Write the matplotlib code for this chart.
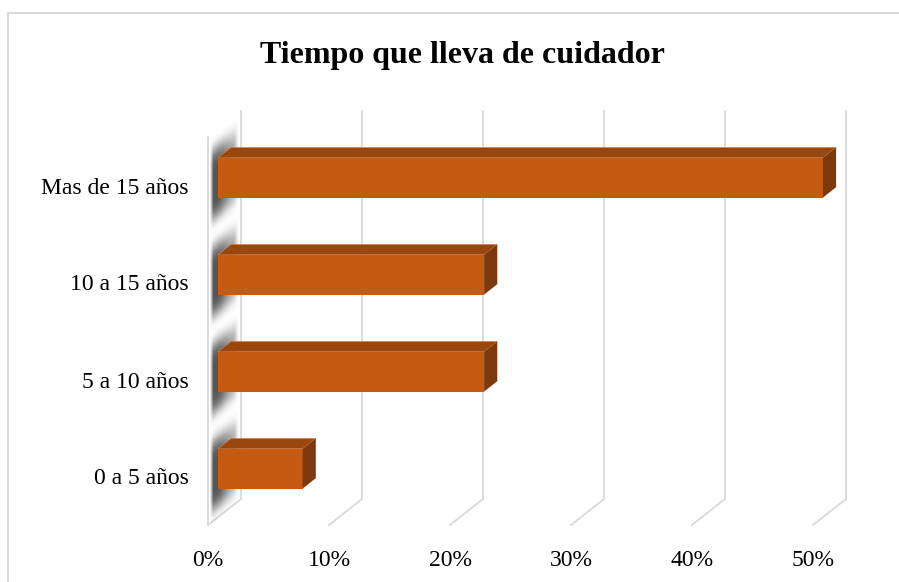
import numpy as np
import matplotlib
matplotlib.use("Agg")
import matplotlib.pyplot as plt
from matplotlib.patches import Polygon, Rectangle

categories = ["0 a 5 años", "5 a 10 años", "10 a 15 años", "Mas de 15 años"]
values = [7, 22, 22, 50]
xticks = [0, 10, 20, 30, 40, 50]
xtick_labels = ["0%", "10%", "20%", "30%", "40%", "50%"]
title = "Tiempo que lleva de cuidador"

plt.rcParams['font.family'] = ['Liberation Serif', 'DejaVu Serif']

W, H = 899, 582
fig = plt.figure(figsize=(W / 100, H / 100), dpi=100)
fig.patch.set_facecolor("white")

# chart frame (runs off the right and bottom edges)
fig.patches.append(Rectangle((8 / W, -0.2), 1.2, (H - 13) / H + 0.2, transform=fig.transFigure,
                             fill=False, edgecolor="#d9d9d9", lw=1.5))

ax = fig.add_axes([208 / W, 57 / H, 605 / W, 388 / H])
ax.set_xlim(0, 50)
ax.set_ylim(-0.5, 3.5)

# oblique depth of the 3d floor (data units)
DX = 33 / 605 * 50
DY = 26 / 97
grid_c = "#d9d9d9"
y_bot, y_top = -0.5, 3.5

# back gridlines + floor diagonals
for t in xticks:
    ax.plot([t + DX, t + DX], [y_bot + DY, y_top + DY], color=grid_c, lw=1.3, clip_on=False, zorder=1)
    ax.plot([t, t + DX], [y_bot, y_bot + DY], color=grid_c, lw=1.3, clip_on=False, zorder=1)
# left wall front edge
ax.plot([0, 0], [y_bot, y_top], color=grid_c, lw=1.3, clip_on=False, zorder=1)

# shadows on the left wall
ny, nx = 160, 40
for i, v in enumerate(values):
    y0, y1 = i - 0.75, i + 0.75
    xs = np.linspace(0, DX, nx)
    ys = np.linspace(y0, y1, ny)
    XX, YY = np.meshgrid(xs, ys)
    u = XX / DX
    vv = YY - u * DY - i
    a = np.exp(-(np.abs(vv + 0.035) / 0.37) ** 5) * (0.4 + 0.6 * np.exp(-((u - 0.25) / 0.4) ** 2))
    a *= np.clip((u - 0.05) / 0.1, 0, 1) * np.clip((0.95 - u) / 0.15, 0, 1)
    img = np.zeros((ny, nx, 4))
    img[..., :3] = 0.25
    img[..., 3] = np.clip(0.9 * a, 0, 1)
    ax.imshow(img, extent=[0, DX, y0, y1], origin="lower", aspect="auto",
              interpolation="bilinear", zorder=2, clip_on=False)

# bars
front_c, top_c, side_c = "#c55a11", "#99460f", "#7d390c"
h = 0.41
d0, d1 = 0.3, 0.7
ypos = np.arange(len(categories))
bars = ax.barh(ypos + d0 * DY, values, left=d0 * DX, height=h, color=front_c, zorder=4)
for b in bars:
    b.set_clip_on(False)
for i, v in enumerate(values):
    x0 = d0 * DX
    yb = i + d0 * DY - h / 2
    yt = i + d0 * DY + h / 2
    ddx, ddy = (d1 - d0) * DX, (d1 - d0) * DY
    ax.add_patch(Polygon([(x0, yt), (x0 + v, yt), (x0 + v + ddx, yt + ddy), (x0 + ddx, yt + ddy)],
                         closed=True, facecolor=top_c, edgecolor="#d9824a", lw=0.4, zorder=5, clip_on=False))
    ax.add_patch(Polygon([(x0 + v, yb), (x0 + v + ddx, yb + ddy), (x0 + v + ddx, yt + ddy), (x0 + v, yt)],
                         closed=True, facecolor=side_c, edgecolor="none", zorder=5, clip_on=False))

ax.set_xticks(xticks)
ax.set_xticklabels(xtick_labels, fontsize=17)
ax.set_yticks(ypos)
ax.set_yticklabels(categories, fontsize=17)
ax.tick_params(length=0, axis="x", pad=18)
ax.tick_params(length=0, axis="y", pad=14)
for s in ax.spines.values():
    s.set_visible(False)
ax.set_facecolor("none")

fig.text(462 / W, 1 - 56 / H, title, ha="center", va="center", fontsize=23, fontweight="bold")

fig.savefig("out.png", dpi=100)
